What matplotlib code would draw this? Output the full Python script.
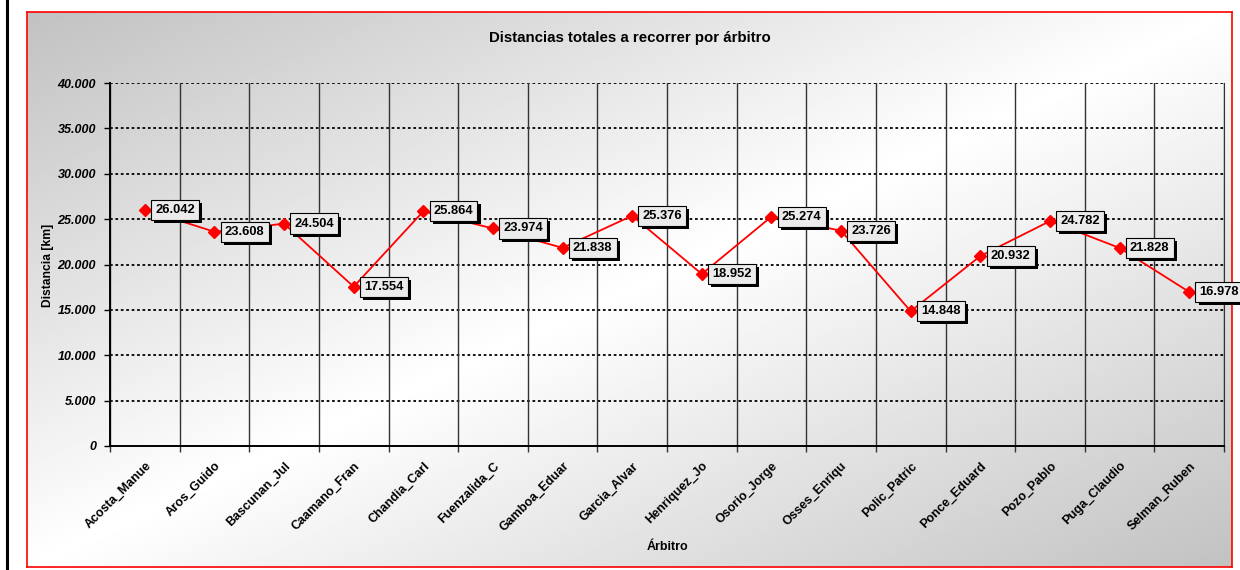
import numpy as np
import matplotlib
matplotlib.use("Agg")
import matplotlib.pyplot as plt
import matplotlib.patheffects as pe
from matplotlib.ticker import FuncFormatter

plt.rcParams['font.family'] = ['Liberation Sans', 'DejaVu Sans']

# --- datos ---
arbitros = ["Acosta_Manue", "Aros_Guido", "Bascunan_Jul", "Caamano_Fran",
            "Chandia_Carl", "Fuenzalida_C", "Gamboa_Eduar", "Garcia_Alvar",
            "Henriquez_Jo", "Osorio_Jorge", "Osses_Enriqu", "Polic_Patric",
            "Ponce_Eduard", "Pozo_Pablo", "Puga_Claudio", "Selman_Ruben"]
distancias = [26042, 23608, 24504, 17554, 25864, 23974, 21838, 25376,
              18952, 25274, 23726, 14848, 20932, 24782, 21828, 16978]
y_ticks = [0, 5000, 10000, 15000, 20000, 25000, 30000, 35000, 40000]

titulo = "Distancias totales a recorrer por árbitro"
eje_y = "Distancia [km]"
eje_x = "Árbitro"


def miles(v, pos=None):
    # formato con punto como separador de miles
    return f"{int(round(v)):,}".replace(",", ".")


W, H = 1240, 570
fig = plt.figure(figsize=(W / 100, H / 100), dpi=100)
fig.patch.set_facecolor("white")

# fondo con degradado diagonal dentro del marco rojo
x0, y0, x1, y1 = 27, 12, 1232, 567
bg = fig.add_axes([x0 / W, 1 - y1 / H, (x1 - x0) / W, (y1 - y0) / H])
gx, gy = np.meshgrid(np.linspace(0, 1, 400), np.linspace(0, 1, 200))
t = (gx + gy) / 2
grad = 0.76 + 0.24 * (1 - np.abs(2 * t - 1))
bg.imshow(grad, cmap="gray", vmin=0, vmax=1, aspect="auto", extent=[0, 1, 0, 1], origin="upper")
bg.set_xticks([])
bg.set_yticks([])
for s in bg.spines.values():
    s.set_color("red")
    s.set_linewidth(1.2)

# linea negra a la izquierda
fig.add_artist(plt.Line2D([7 / W, 7 / W], [0, 1], color="black", lw=2.2, transform=fig.transFigure))

ax = fig.add_axes([110 / W, 1 - 446 / H, (1224 - 110) / W, (446 - 83) / H])
ax.set_facecolor("none")

n = len(arbitros)
x = np.arange(n)
ax.plot(x, distancias, color="red", lw=1.3, marker="D", markersize=6.5,
        markerfacecolor="red", markeredgecolor="red", zorder=5)

ax.set_xlim(-0.5, n - 0.5)
ax.set_ylim(0, 40000)

# rejilla
for yv in y_ticks[1:]:
    ax.axhline(yv, color="black", lw=1.3, ls=(0, (1.5, 1.5)), zorder=1)
for xv in np.arange(-0.5, n, 1.0):
    ax.axvline(xv, color="#333333", lw=1.0, zorder=1)

ax.set_yticks(y_ticks)
ax.yaxis.set_major_formatter(FuncFormatter(miles))
ax.set_xticks(x)
ax.set_xticklabels(arbitros, rotation=45, ha="right", rotation_mode="anchor",
                   fontsize=9, fontweight="bold")
ax.tick_params(axis="x", length=0, pad=10)
ax.set_xticks(np.arange(-0.5, n, 1.0), minor=True)
ax.tick_params(axis="x", which="minor", length=4, color="#333333", width=1)
ax.tick_params(axis="y", length=4, width=1, labelsize=9, pad=6)
for lab in ax.get_yticklabels():
    lab.set_fontweight("bold")
    lab.set_fontstyle("italic")

for s in ["left", "bottom"]:
    ax.spines[s].set_color("black")
    ax.spines[s].set_linewidth(1.4)
ax.spines["top"].set_visible(False)
ax.spines["right"].set_color("#333333")

# etiquetas de datos
for xi, v in zip(x, distancias):
    txt = ax.annotate(miles(v), (xi, v), xytext=(7.5, 0), textcoords="offset points",
                      ha="left", va="center", fontsize=9.3, fontweight="bold", zorder=6,
                      bbox=dict(boxstyle="square,pad=0.32", facecolor="#ebebeb",
                                edgecolor="black", lw=0.8))
    txt.get_bbox_patch().set_path_effects(
        [pe.SimplePatchShadow(offset=(2.2, -2.2), shadow_rgbFace="black", alpha=1), pe.Normal()])

fig.text(630 / W, 1 - 38 / H, titulo, ha="center", va="center", fontsize=10.8, fontweight="bold")
fig.text(48 / W, 1 - 265 / H, eje_y, ha="center", va="center", rotation=90, fontsize=8.7, fontweight="bold")
fig.text(667 / W, 1 - 547 / H, eje_x, ha="center", va="center", fontsize=9, fontweight="bold")

fig.savefig("out.png", dpi=100)
